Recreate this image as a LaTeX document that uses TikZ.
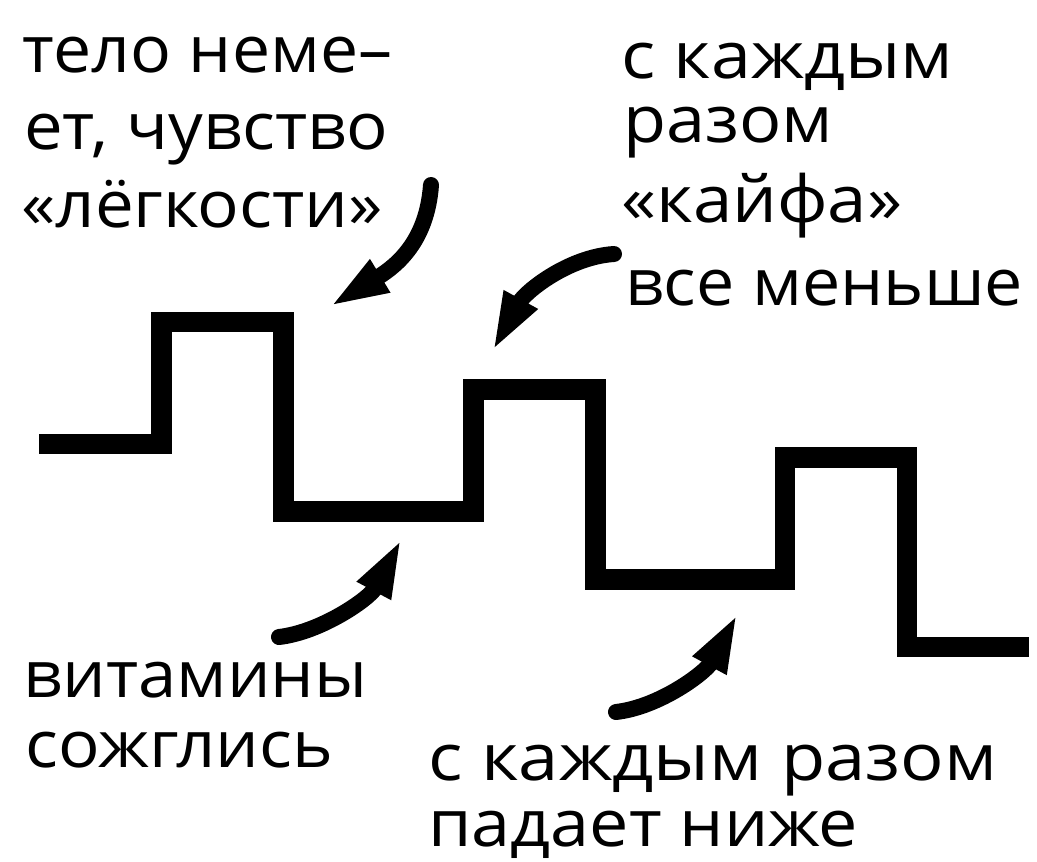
\documentclass[tikz,border=0pt]{standalone}
\usepackage{fontspec}
\setmainfont{Open Sans}
\usetikzlibrary{arrows.meta}
\begin{document}
\begin{tikzpicture}[x=1pt,y=-1pt,
  lbl/.style={anchor=base west, inner sep=0pt, font=\fontsize{65}{78}\selectfont},
  stepline/.style={line width=20.5pt, line join=miter, line cap=butt},
  curvearrow/.style={line width=16pt, line cap=round, -{Triangle[length=60pt,width=34pt]}}]
\useasboundingbox (0,0) rectangle (1037,862);
% step line
\draw[stepline] (39,444) -| (161.5,322) -| (283.5,511.5) -| (473.5,389.5) -| (595.5,579.5) -| (785,457.5) -| (907,647) -- (1029,647);
% labels
\node[lbl] (t1) at (22,72) {\resizebox{370pt}{\height}{тело неме–}};
\node[lbl] (t2) at (24,149.5) {\resizebox{364pt}{\height}{ет, чувство}};
\node[lbl] (t3) at (21,227) {\resizebox{362pt}{\height}{«лёгкости»}};
\node[lbl] (r1) at (621,78) {\resizebox{332pt}{\height}{с каждым}};
\node[lbl] (r2) at (623,142) {\resizebox{210pt}{\height}{разом}};
\node[lbl] (r3) at (621,222) {\resizebox{281pt}{\height}{«кайфа»}};
\node[lbl] (r4) at (625,305) {\resizebox{398pt}{\height}{все меньше}};
\node[lbl] (b1) at (23,697) {\resizebox{344pt}{\height}{витамины}};
\node[lbl] (b2) at (25,767) {\resizebox{308pt}{\height}{сожглись}};
\node[lbl] (c1) at (428,780) {\resizebox{569pt}{\height}{с каждым разом}};
\node[lbl] (c2) at (428,846) {\resizebox{430pt}{\height}{падает ниже}};
% arrow coordinates
\coordinate (a1s) at (431,185);
\coordinate (a1e) at (329,307);
\coordinate (a2s) at (614,254);
\coordinate (a2e) at (492,352);
\coordinate (a3s) at (279,637);
\coordinate (a3e) at (402,538);
\coordinate (a4s) at (616,712);
\coordinate (a4e) at (738,613);
\draw[curvearrow] (a1s) .. controls (427,240) and (398,265) .. (a1e);
\draw[curvearrow] (a2s) .. controls (568,257) and (525,292) .. (a2e);
\draw[curvearrow] (a3s) .. controls (322,632) and (370,598) .. (a3e);
\draw[curvearrow] (a4s) .. controls (660,707) and (706,672) .. (a4e);
\end{tikzpicture}
\end{document}
